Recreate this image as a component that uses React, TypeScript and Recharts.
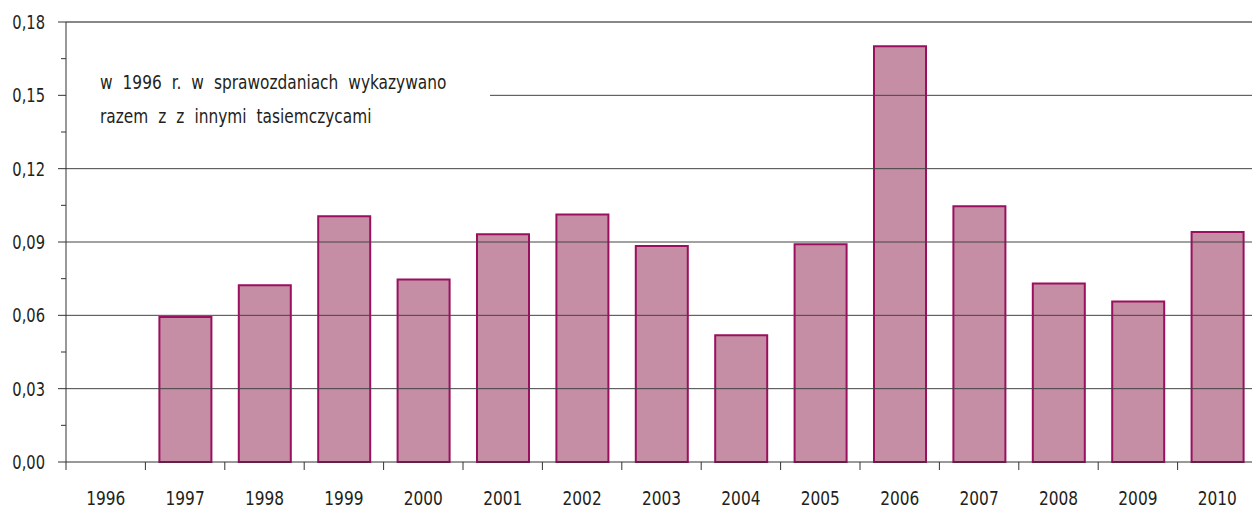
import React from 'react';
import { BarChart, Bar, XAxis, YAxis, ReferenceLine } from 'recharts';

const years = ['1996', '1997', '1998', '1999', '2000', '2001', '2002', '2003', '2004', '2005', '2006', '2007', '2008', '2009', '2010'];
const values: (number | null)[] = [null, 0.0593, 0.0723, 0.1005, 0.0747, 0.0932, 0.1013, 0.0884, 0.0519, 0.0891, 0.1701, 0.1046, 0.0730, 0.0657, 0.0941];
const yTicks = [0, 0.015, 0.03, 0.045, 0.06, 0.075, 0.09, 0.105, 0.12, 0.135, 0.15, 0.165, 0.18];
const majorTicks = [0, 0.03, 0.06, 0.09, 0.12, 0.18, 0.15];
const gridValues = [0.03, 0.06, 0.09, 0.12];
const noteLines = ['w 1996 r. w sprawozdaniach wykazywano', 'razem z z innymi tasiemczycami'];

const data = years.map((y, i) => ({ year: y, value: values[i] }));

const FONT = '"DejaVu Sans Condensed", "Liberation Sans Narrow", sans-serif';
const TEXT = '#231f20';
const SX = 0.88;

const CHART_W = 1257;
const CHART_H = 508;
const MARGIN = { top: 22, right: 0, bottom: 0, left: 0 };
const Y_W = 66;
const BAND = (CHART_W - Y_W - MARGIN.right) / years.length;

const isMajor = (v: number) => majorTicks.some((m) => Math.abs(m - v) < 1e-6);

const NarrowText = ({ x, y, anchor = 'start', sx = SX, children, wordSpacing }: any) => (
  <text
    transform={`translate(${x},${y}) scale(${sx},1)`}
    x={0}
    y={0}
    textAnchor={anchor}
    fontFamily={FONT}
    fontSize={19}
    fill={TEXT}
    style={wordSpacing ? { wordSpacing } : undefined}
  >
    {children}
  </text>
);

const YTick = (props: any) => {
  const { x, y, payload } = props;
  const axisX = x + 21;
  const major = isMajor(payload.value);
  return (
    <g>
      <line x1={axisX - (major ? 8 : 5)} x2={axisX} y1={y} y2={y} stroke="#333" strokeWidth={1} />
      {major && (
        <NarrowText x={x} y={y + 7} anchor="end" sx={0.86}>
          {payload.value.toFixed(2).replace('.', ',')}
        </NarrowText>
      )}
    </g>
  );
};

const XTick = (props: any) => {
  const { x, y, payload, index } = props;
  const axisY = y - 14;
  const left = x - BAND / 2;
  return (
    <g>
      <line x1={left} x2={left} y1={axisY} y2={axisY + 8} stroke="#333" strokeWidth={1} />
      {index === years.length - 1 && (
        <line x1={x + BAND / 2} x2={x + BAND / 2} y1={axisY} y2={axisY + 8} stroke="#333" strokeWidth={1} />
      )}
      <NarrowText x={x} y={axisY + 43} anchor="middle" sx={0.9}>
        {payload.value}
      </NarrowText>
    </g>
  );
};

const NoteLine = (p: any) => (
  <g>
    <line x1={p.x1 + 424} x2={p.x2} y1={p.y1} y2={p.y2} stroke="#444" strokeWidth={1} />
    <NarrowText x={p.x1 + 34} y={p.y1 - 6} sx={0.9} wordSpacing={5.7}>
      {noteLines[0]}
    </NarrowText>
    <NarrowText x={p.x1 + 34} y={p.y1 + 28} sx={0.9} wordSpacing={5.7}>
      {noteLines[1]}
    </NarrowText>
  </g>
);

export default function App() {
  return (
    <div style={{ position: 'fixed', left: 0, top: 0, width: 1252, height: 508, overflow: 'hidden', background: '#fff' }}>
      <BarChart width={CHART_W} height={CHART_H} data={data} margin={MARGIN}>
        {gridValues.map((g) => (
          <ReferenceLine key={g} y={g} stroke="#444" strokeWidth={1} />
        ))}
        <ReferenceLine y={0.18} stroke="#888" strokeWidth={2} />
        <ReferenceLine y={0.15} shape={NoteLine} />
        <XAxis
          dataKey="year"
          tickLine={false}
          axisLine={{ stroke: '#333', strokeWidth: 1 }}
          tick={XTick}
          tickSize={8}
          tickMargin={6}
          height={46}
          interval={0}
        />
        <YAxis
          domain={[0, 0.18]}
          ticks={yTicks}
          interval={0}
          tickLine={false}
          axisLine={{ stroke: '#333', strokeWidth: 1 }}
          tick={YTick}
          tickSize={8}
          tickMargin={13}
          width={Y_W}
        />
        <Bar
          dataKey="value"
          fill="#c58ea5"
          stroke="#9b0f5f"
          strokeWidth={2}
          barSize={52}
          isAnimationActive={false}
        />
      </BarChart>
    </div>
  );
}
